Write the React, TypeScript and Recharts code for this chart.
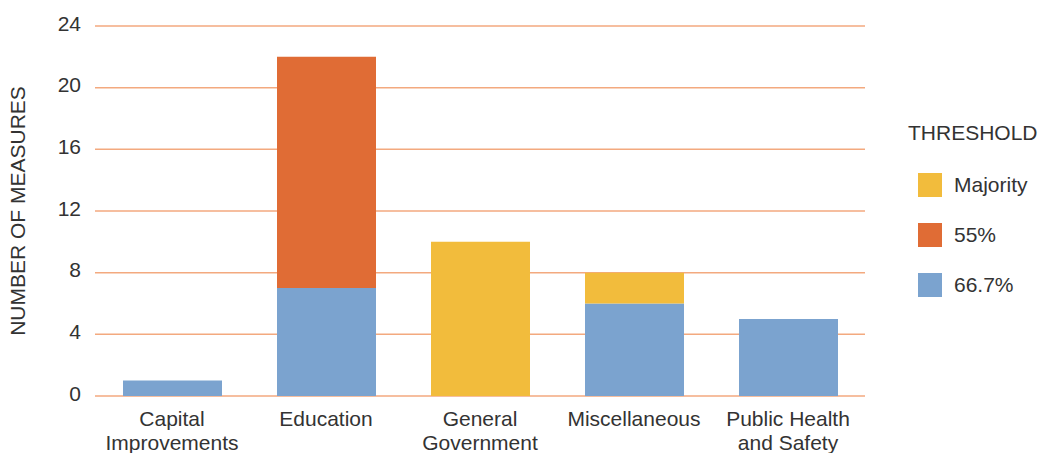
import { BarChart, Bar, XAxis, YAxis, CartesianGrid, Legend } from "recharts";

const categories = [
  "Capital Improvements",
  "Education",
  "General Government",
  "Miscellaneous",
  "Public Health and Safety",
];
const tickLines = [
  ["Capital", "Improvements"],
  ["Education"],
  ["General", "Government"],
  ["Miscellaneous"],
  ["Public Health", "and Safety"],
];
const twoThirds = [1, 7, 0, 6, 5];
const fiftyFive = [0, 15, 0, 0, 0];
const majority = [0, 0, 10, 2, 0];
const yTicks = [0, 4, 8, 12, 16, 20, 24];
const legendOrder = ["Majority", "55%", "66.7%"];

const data = categories.map((c, i) => ({
  name: c,
  twoThirds: twoThirds[i],
  fiftyFive: fiftyFive[i],
  majority: majority[i],
}));

const FONT = "'Liberation Sans', Arial, Helvetica, sans-serif";
const TEXT = "#333";
const FS = 21;

function XTick(props: any) {
  const { x, y, payload } = props;
  const lines = tickLines[categories.indexOf(payload.value)] || [payload.value];
  return (
    <g>
      {lines.map((l: string, i: number) => (
        <text key={i} x={x} y={y + 22 + i * 24} textAnchor="middle" fill={TEXT} fontSize={FS} fontFamily={FONT}>
          {l}
        </text>
      ))}
    </g>
  );
}

function YTick(props: any) {
  const { y, payload } = props;
  return (
    <text x={81} y={y - 3} textAnchor="end" dominantBaseline="central" fill={TEXT} fontSize={FS} fontFamily={FONT}>
      {payload.value}
    </text>
  );
}

function LegendBox(props: any) {
  const items = [...(props.payload || [])].sort(
    (a: any, b: any) => legendOrder.indexOf(a.value) - legendOrder.indexOf(b.value)
  );
  return (
    <div style={{ fontFamily: FONT, color: TEXT, fontSize: FS }}>
      <div style={{ marginLeft: -10, height: 24, lineHeight: "24px" }}>THRESHOLD</div>
      <div style={{ marginTop: 28 }}>
        {items.map((it: any) => (
          <div key={it.value} style={{ display: "flex", alignItems: "center", height: 24, marginBottom: 26 }}>
            <span style={{ width: 24, height: 24, background: it.color, display: "inline-block" }} />
            <span style={{ marginLeft: 12 }}>{it.value}</span>
          </div>
        ))}
      </div>
    </div>
  );
}

export default function App() {
  return (
    <div style={{ position: "absolute", left: 0, top: 0, background: "#fff" }}>
      <BarChart width={1040} height={453} data={data} margin={{ top: 26, right: 175, left: 0, bottom: 0 }}>
        <CartesianGrid vertical={false} stroke="#f3a97f" strokeWidth={1.5} />
        <XAxis dataKey="name" height={57} axisLine={false} tickLine={false} interval={0} tick={<XTick />} />
        <YAxis
          width={95}
          domain={[0, 24]}
          ticks={yTicks}
          axisLine={false}
          tickLine={false}
          tick={<YTick />}
          label={{
            value: "NUMBER OF MEASURES",
            angle: -90,
            position: "insideLeft",
            dx: 13,
            style: { textAnchor: "middle", fill: TEXT, fontSize: FS, fontFamily: FONT },
          }}
        />
        <Legend
          layout="vertical"
          align="center"
          verticalAlign="middle"
          content={<LegendBox />}
          wrapperStyle={{ position: "absolute", left: 918, top: 121, width: 130 }}
        />
        <Bar dataKey="twoThirds" name="66.7%" stackId="a" fill="#7ba3cf" barSize={99} isAnimationActive={false} />
        <Bar dataKey="fiftyFive" name="55%" stackId="a" fill="#e06c35" barSize={99} isAnimationActive={false} />
        <Bar dataKey="majority" name="Majority" stackId="a" fill="#f2bc3c" barSize={99} isAnimationActive={false} />
      </BarChart>
    </div>
  );
}
